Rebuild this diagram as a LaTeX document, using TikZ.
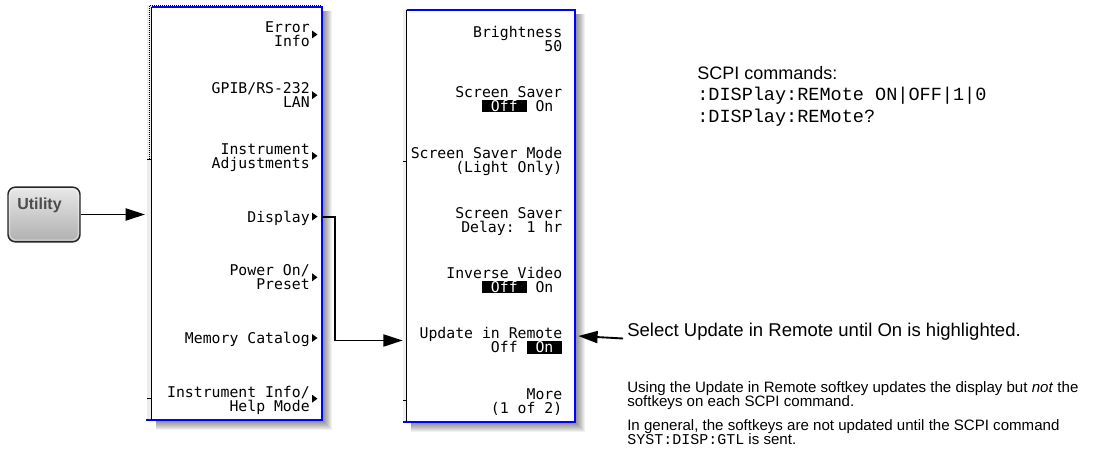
\documentclass[tikz,border=0pt]{standalone}
\usepackage{fontspec}
\setmainfont{Liberation Sans}
\setmonofont{Liberation Mono}
\newfontfamily\skfont{DejaVu Sans Mono}
\usetikzlibrary{arrows.meta}
\newcommand\chsp{\hphantom{O}}
\newcommand\hlbox[1]{{\setlength{\fboxsep}{0pt}\colorbox{black}{\rule[-0.5pt]{0pt}{9.3pt}\textcolor{white}{#1}}}}
\newcommand\tightlines{\setlength{\lineskiplimit}{-20pt}\setlength{\lineskip}{0pt}}
\begin{document}
\begin{tikzpicture}[x=0.75pt,y=-0.75pt,
  sk/.style={anchor=base east,inner sep=0pt,font=\skfont\fontsize{11.1pt}{10.5pt}\selectfont},
  panel/.style={fill=white,draw=none,inner sep=0pt},
  arrtip/.style={-{Triangle[length=14.5pt,width=9pt]}},
  arr/.style={line width=1.4pt,arrtip},
  rtxt/.style={anchor=base west,inner sep=0pt},
  para/.style={anchor=base west,inner sep=0pt,align=left,font=\fontsize{11.3pt}{10.2pt}\selectfont\tightlines},
  bluebord/.style={draw=blue,line width=1.7pt},
  leftbord/.style={draw=black,line width=1.1pt},
  tick/.style={draw=black,line width=0.75pt},
  dotline/.style={draw=black,line width=0.75pt,dash pattern=on 0.75pt off 0.75pt}]
\useasboundingbox (0,0) rectangle (1114,452);
\fill[white] (0,0) rectangle (1114,452);

% ---------- Utility hardkey
\node[draw=gray!30!black,line width=1.1pt,rounded corners=5.5pt,
      top color=gray!18,bottom color=gray!62,
      minimum width=54pt,minimum height=41pt,inner sep=0pt] (util) at (44,214.5) {};
\draw[white,opacity=0.6,line width=0.6pt,rounded corners=4.5pt]
  ([shift={(2.5,2.5)}]util.north west) rectangle ([shift={(-2.5,-2.5)}]util.south east);
\node[anchor=base west,inner sep=0pt,font=\bfseries\fontsize{12pt}{14pt}\selectfont,text=black!70] (utiltxt) at (17,210) {Utility};

% ---------- shadows
\foreach \k in {1,...,10} \fill[black,opacity=0.055] (156,11) rectangle (322+\k,420+\k);
\foreach \k in {1,...,10} \fill[black,opacity=0.055] (411,14) rectangle (575+\k,422+\k);

% ---------- panel 1
\fill[gray!15] (147,5) rectangle (152,421);
\node[panel,minimum width=127.5pt,minimum height=309.75pt] (p1) at (237,213.5) {};
\draw[dotline] (150,5.2) -- (321,5.2);
\draw[dotline] (149.8,6) -- (149.8,160);
\draw[bluebord] (p1.north west) -- (p1.north east) -- (p1.south east) -- ([xshift=-4]p1.south west);
\draw[leftbord] (p1.north west) -- (p1.south west);
\draw[tick] (147,160) -- (152,160);
\draw[tick] (147,398.5) -- (152,398.5);

% ---------- panel 2
\fill[gray!12] (403,9) rectangle (407,423);
\node[panel,minimum width=126pt,minimum height=309pt] (p2) at (491,216) {};
\draw[bluebord] (p2.north west) -- (p2.north east) -- (p2.south east) -- ([xshift=-3]p2.south west);
\draw[leftbord] (p2.north west) -- (p2.south west);
\draw[tick] (403,162) -- (407,162);
\draw[tick] (403,400) -- (407,400);

% ---------- panel 1 softkeys
\node[sk] (k11a) at (310,33) {Error};
\node[sk] (k11b) at (310,47) {Info};
\node[sk] (k12a) at (310,93.7) {GPIB/RS-232};
\node[sk] (k12b) at (310,107.7) {LAN};
\node[sk] (k13a) at (310,154.4) {Instrument};
\node[sk] (k13b) at (310,168.4) {Adjustments};
\node[sk] (k14) at (310,222.1) {Display};
\node[sk] (k15a) at (310,275.8) {Power On/};
\node[sk] (k15b) at (310,289.8) {Preset};
\node[sk] (k16) at (310,343.5) {Memory Catalog};
\node[sk] (k17a) at (310,397.2) {Instrument Info/};
\node[sk] (k17b) at (310,411.2) {Help Mode};
\foreach \c in {34.5,95.2,155.9,216.6,277.3,338,398.7}
  \fill (312,{\c-4}) -- (317.5,\c) -- (312,{\c+4}) -- cycle;
\coordinate (r14) at (310,216.6);

% ---------- panel 2 softkeys
\node[sk] (k21a) at (562.5,37.5) {Brightness};
\node[sk] (k21b) at (562.5,51.5) {50};
\node[sk] (k22a) at (562.5,97.8) {Screen Saver};
\node[sk] (k22b) at (562.5,111.8) {\hlbox{\chsp Off\chsp}\chsp On\chsp};
\node[sk] (k23a) at (562.5,158.1) {Screen Saver Mode};
\node[sk] (k23b) at (562.5,172.1) {(Light Only)};
\node[sk] (k24a) at (562.5,218.4) {Screen Saver};
\node[sk] (k24b) at (562.5,232.4) {Delay: 1 hr};
\node[sk] (k25a) at (562.5,278.7) {Inverse Video};
\node[sk] (k25b) at (562.5,292.7) {\hlbox{\chsp Off\chsp}\chsp On\chsp};
\node[sk] (k26a) at (562.5,339) {Update in Remote};
\node[sk] (k26b) at (562.5,353) {Off\chsp\hlbox{\chsp On\chsp}};
\node[sk] (k27a) at (562.5,399.3) {More};
\node[sk] (k27b) at (562.5,413.3) {(1 of 2)};
\coordinate (r26) at (562.5,340.5);

% ---------- texts on the right
\node[rtxt,font=\fontsize{13.5pt}{16pt}\selectfont] (scpi) at (697,80) {SCPI commands:};
\node[rtxt,font=\ttfamily\fontsize{13.9pt}{16pt}\selectfont] (cmd1) at (697,101) {:DISPlay:REMote ON|OFF|1|0};
\node[rtxt,font=\ttfamily\fontsize{13.9pt}{16pt}\selectfont] (cmd2) at (697,123) {:DISPlay:REMote?};
\node[rtxt,font=\fontsize{13.9pt}{16pt}\selectfont] (sel) at (627,336) {Select Update in Remote until On is highlighted.};
\node[para] (note1) at (627,406) {Using the Update in Remote softkey updates the display but \textit{not} the\\softkeys on each SCPI command.};
\node[para] (note2) at (627,444) {In general, the softkeys are not updated until the SCPI command\\\texttt{\fontsize{11.25pt}{10.2pt}\selectfont SYST:DISP:GTL} is sent.};

% ---------- connectors
\draw[arr] (util.east) -- ([xshift=-5]util.east -| p1.west);
\draw[arr] (r14 -| p1.east) -- ++(13,0) |- ([xshift=-3]r26 -| p2.west);
\draw[arr] ([shift={(-4,2.5)}]sel.base west) -- ([shift={(3,0)}]sel.base west -| p2.east |- 0,338.5);
\end{tikzpicture}
\end{document}
